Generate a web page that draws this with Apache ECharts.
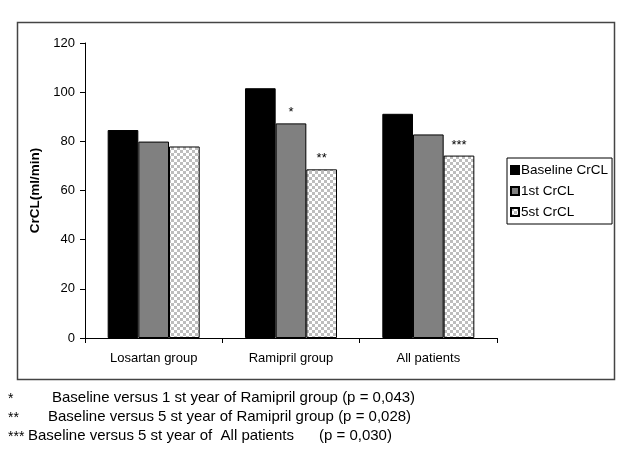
<!DOCTYPE html>
<html><head><meta charset="utf-8">
<script src="https://cdn.jsdelivr.net/npm/echarts@6/dist/echarts.min.js"></script>
<style>html,body{margin:0;padding:0;background:#fff}#c{width:625px;height:468px}</style>
</head><body><div id="c"></div>
<script>
var categories = ['Losartan group', 'Ramipril group', 'All patients'];
var seriesNames = ['Baseline CrCL', '1st CrCL', '5st CrCL'];
var baseline = [84.6, 101.6, 91.2];
var first = [79.9, 87.3, 82.8];
var fifth = [77.9, 68.6, 74.2];
var marks1 = ['', '*', ''];
var marks5 = ['', '**', '***'];
var yTicks = [0, 20, 40, 60, 80, 100, 120];
var footnotes = [
  ['*', 'Baseline versus 1 st year of Ramipril group (p = 0,043)'],
  ['**', 'Baseline versus 5 st year of Ramipril group (p = 0,028)'],
  ['***', 'Baseline versus 5 st year of  All patients      (p = 0,030)']
];

var cv = document.createElement('canvas');
cv.width = 6; cv.height = 6;
var cx = cv.getContext('2d');
cx.fillStyle = '#ffffff'; cx.fillRect(0, 0, 6, 6);
cx.fillStyle = '#bdbdbd';
cx.fillRect(0, 0, 3, 3); cx.fillRect(3, 3, 3, 3);
var checker = {image: cv, repeat: 'repeat'};

var font = 'Arial, "Liberation Sans", sans-serif';
var chart = echarts.init(document.getElementById('c'));
function lbl(marks) {
  return {show: true, position: 'top', distance: 4, color: '#000', fontSize: 13, fontFamily: font,
    formatter: function (p) { return marks[p.dataIndex]; }};
}
var graphics = [{type: 'rect', shape: {x: 17.5, y: 22.5, width: 597, height: 357},
  style: {fill: null, stroke: '#444', lineWidth: 1.5}, z: 0}];
footnotes.forEach(function (f, i) {
  var y = 390 + i * 19;
  graphics.push({type: 'text', left: 8, top: y + 2, style: {text: f[0], font: '14px ' + font, fill: '#000'}});
  var x = i === 0 ? 52 : (i === 1 ? 48 : 28);
  graphics.push({type: 'text', left: x, top: y, style: {text: f[1], font: '15px ' + font, fill: '#000'}});
});
chart.setOption({
  animation: false,
  grid: {left: 85, right: 128, top: 43, bottom: 130},
  legend: {
    orient: 'vertical', left: 507, top: 158, width: 106,
    data: seriesNames, itemWidth: 8, itemHeight: 8, itemGap: 7,
    padding: [5, 4, 5, 3], borderColor: '#000', borderWidth: 1,
    textStyle: {fontSize: 13.5, fontFamily: font, color: '#000', padding: [0, 0, 0, -3]},
    icon: 'rect'
  },
  xAxis: {
    type: 'category', data: categories,
    axisLine: {lineStyle: {color: '#000'}},
    axisTick: {show: true, length: 5, lineStyle: {color: '#000'}},
    axisLabel: {color: '#000', fontSize: 13, fontFamily: font, margin: 14}
  },
  yAxis: {
    type: 'value', min: 0, max: 120, interval: 20,
    name: 'CrCL(ml/min)', nameLocation: 'middle', nameGap: 39,
    nameTextStyle: {fontWeight: 'bold', fontSize: 13.5, fontFamily: font, color: '#000'},
    axisLine: {show: true, lineStyle: {color: '#000'}},
    axisTick: {show: true, length: 5, lineStyle: {color: '#000'}},
    axisLabel: {color: '#000', fontSize: 13, fontFamily: font, margin: 10,
      formatter: function (v) { return yTicks.indexOf(v) >= 0 ? String(v) : ''; }},
    splitLine: {show: false}
  },
  series: [
    {name: seriesNames[0], type: 'bar', data: baseline, barGap: '0%', barCategoryGap: '33%',
      itemStyle: {color: '#000', borderColor: '#000', borderWidth: 1}},
    {name: seriesNames[1], type: 'bar', data: first, label: lbl(marks1),
      itemStyle: {color: '#808080', borderColor: '#000', borderWidth: 1}},
    {name: seriesNames[2], type: 'bar', data: fifth, label: lbl(marks5),
      itemStyle: {color: checker, borderColor: '#000', borderWidth: 1}}
  ],
  graphic: graphics
});
</script></body></html>
